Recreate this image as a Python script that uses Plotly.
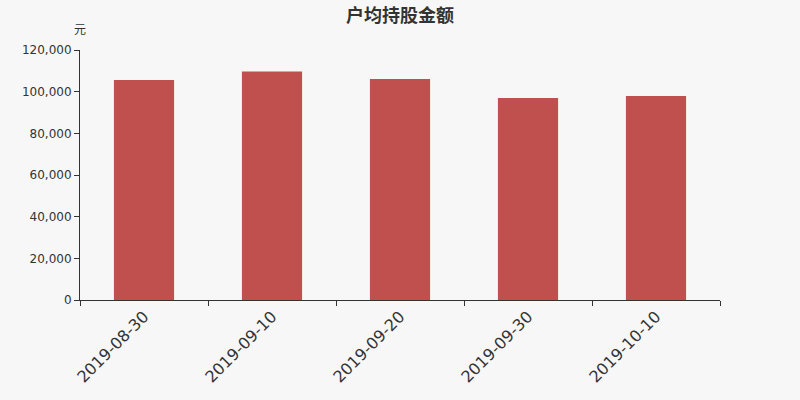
import plotly.graph_objects as go

dates = ["2019-08-30", "2019-09-10", "2019-09-20", "2019-09-30", "2019-10-10"]
avg_amount = [105600, 109700, 106100, 96960, 97900]
y_ticks = [0, 20000, 40000, 60000, 80000, 100000, 120000]

fig = go.Figure()
fig.add_trace(go.Bar(x=dates, y=avg_amount, marker_color="#c0504d",
                     marker_line_width=0, width=0.47))

fig.update_layout(
    width=800, height=400,
    paper_bgcolor="#f7f7f7", plot_bgcolor="#f7f7f7",
    margin=dict(l=80, r=80, t=50, b=100),
    font=dict(family="DejaVu Sans, Noto Sans CJK SC", color="#333333"),
    title=dict(text="户均持股金额", x=0.5, y=0.962, xanchor="center", yanchor="middle",
               font=dict(size=18, family="Noto Sans CJK SC", color="#333333", weight="bold")),
    showlegend=False,
    annotations=[dict(text="元", x=0, y=1.085, xref="paper", yref="paper",
                      xanchor="center", yanchor="middle", showarrow=False,
                      font=dict(size=12, family="Noto Sans CJK SC", color="#333333"))],
)

fig.update_xaxes(type="category", tickangle=-45, tickfont=dict(size=16),
                 showline=True, linecolor="#333333", linewidth=1,
                 ticks="outside", ticklen=5, tickcolor="#333333", tickson="boundaries",
                 showgrid=False)
fig.update_yaxes(range=[0, 120000], tickvals=y_ticks, tickformat=",", tickfont=dict(size=12),
                 showline=True, linecolor="#333333", linewidth=1,
                 ticks="outside", ticklen=5, tickcolor="#333333",
                 showgrid=False, zeroline=False)

fig.write_html("out.html", config={"displayModeBar": False},
               post_script="document.body.style.margin='0';document.body.style.background='#f7f7f7';")
